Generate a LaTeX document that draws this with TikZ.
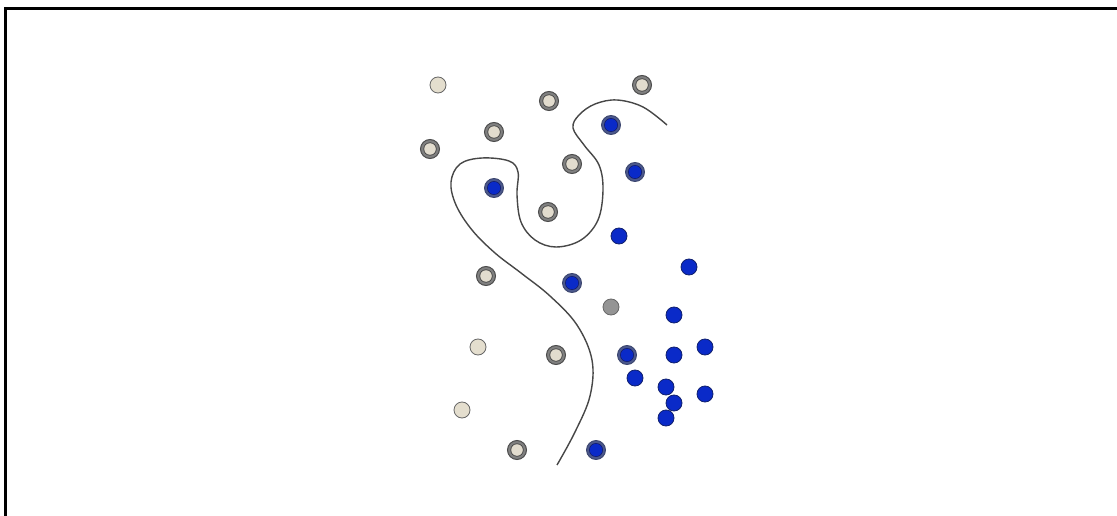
\documentclass[tikz,border=0pt]{standalone}
\definecolor{beige}{RGB}{228,222,206}
\definecolor{beigein}{RGB}{226,220,206}
\definecolor{ringblueout}{RGB}{60,70,110}
\definecolor{ringbluefill}{RGB}{75,88,140}
\definecolor{bluedark}{RGB}{20,30,110}
\definecolor{dotblue}{RGB}{10,42,200}
\definecolor{bluedraw}{RGB}{16,32,110}
\begin{document}
\begin{tikzpicture}[x=1pt,y=-1pt,
  plainbeige/.style={circle,draw=black!60,line width=0.8pt,fill=beige,minimum size=16pt,inner sep=0pt},
  ringbeige/.style={circle,draw=black!70,line width=1pt,fill=black!50,minimum size=19pt,inner sep=0pt,
     path picture={\fill[black!75] (path picture bounding box.center) circle (6.6pt);
                   \fill[beigein] (path picture bounding box.center) circle (5.8pt);}},
  ringblue/.style={circle,draw=ringblueout,line width=0.9pt,fill=ringbluefill,minimum size=19pt,inner sep=0pt,
     path picture={\fill[bluedark] (path picture bounding box.center) circle (7pt);
                   \fill[dotblue] (path picture bounding box.center) circle (6.2pt);}},
  plainblue/.style={circle,draw=bluedraw,line width=0.8pt,fill=dotblue,minimum size=16pt,inner sep=0pt},
  graydot/.style={circle,draw=black!60,line width=0.8pt,fill=black!42,minimum size=16pt,inner sep=0pt},
  frame/.style={line width=3pt,black},
  boundary/.style={line width=1.4pt,black!72}]
\useasboundingbox (0,0) rectangle (1117,516);
\fill[white] (0,0) rectangle (1117,516);
% frame
\coordinate (fl) at (5,516);
\coordinate (fc) at (5,9);
\coordinate (fr) at (1117,9);
\draw[frame] (fl) -- (fc) -- (fr);
% boundary curve
\draw[boundary] plot[smooth,tension=0.6] coordinates {
 (667,125) (643,107) (617,100) (595,104) (579,115) (573,128) (584,145) (599,165)
 (603,190) (598,220) (581,240) (556,247) (535,240) (521,222) (517,195) (518,172)
 (509,161) (482,158) (460,164) (451,182) (456,205) (472,230) (495,253) (521,273)
 (550,296) (577,325) (592,360) (590,396) (575,432) (557,465)};
% plain beige
\node[plainbeige] (b1) at (438,85) {};
\node[plainbeige] (b2) at (478,347) {};
\node[plainbeige] (b3) at (462,410) {};
% ringed beige
\node[ringbeige] (r1) at (549,101) {};
\node[ringbeige] (r2) at (642,85) {};
\node[ringbeige] (r3) at (494,132) {};
\node[ringbeige] (r4) at (430,149) {};
\node[ringbeige] (r5) at (572,164) {};
\node[ringbeige] (r6) at (548,212) {};
\node[ringbeige] (r7) at (486,276) {};
\node[ringbeige] (r8) at (556,355) {};
\node[ringbeige] (r9) at (517,450) {};
% ringed blue
\node[ringblue] (q1) at (611,125) {};
\node[ringblue] (q2) at (635,172) {};
\node[ringblue] (q3) at (494,188) {};
\node[ringblue] (q4) at (572,283) {};
\node[ringblue] (q5) at (627,355) {};
\node[ringblue] (q6) at (596,450) {};
% gray
\node[graydot] (g1) at (611,307) {};
% plain blue
\node[plainblue] (p1) at (619,236) {};
\node[plainblue] (p2) at (689,267) {};
\node[plainblue] (p3) at (674,315) {};
\node[plainblue] (p4) at (674,355) {};
\node[plainblue] (p5) at (705,347) {};
\node[plainblue] (p6) at (635,378) {};
\node[plainblue] (p7) at (666,387) {};
\node[plainblue] (p8) at (674,403) {};
\node[plainblue] (p9) at (705,394) {};
\node[plainblue] (p10) at (666,418) {};
\end{tikzpicture}
\end{document}
